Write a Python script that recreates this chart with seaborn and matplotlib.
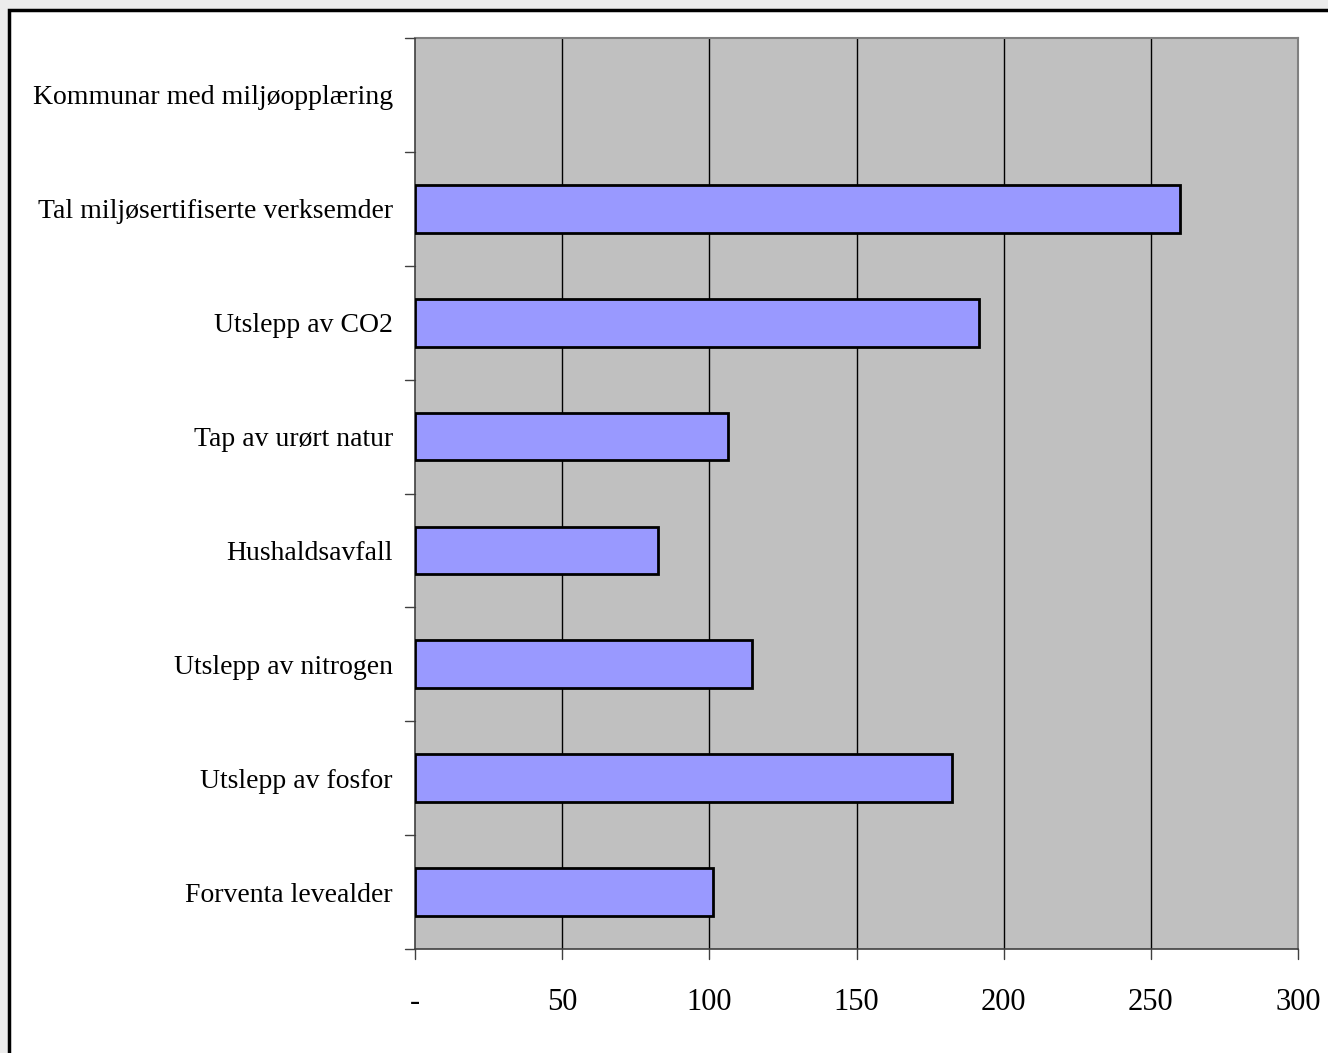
import matplotlib
matplotlib.use("Agg")
import matplotlib.pyplot as plt
import matplotlib.patches as mpatches
import seaborn as sns
import pandas as pd
import numpy as np

categories = [
    "Kommunar med miljøopplæring",
    "Tal miljøsertifiserte verksemder",
    "Utslepp av CO2",
    "Tap av urørt natur",
    "Hushaldsavfall",
    "Utslepp av nitrogen",
    "Utslepp av fosfor",
    "Forventa levealder",
]
values = [np.nan, 260, 191.5, 106.4, 82.6, 114.6, 182.6, 101.2]
xticks = [0, 50, 100, 150, 200, 250, 300]
xticklabels = ["-", "50", "100", "150", "200", "250", "300"]

df = pd.DataFrame({"cat": categories, "val": values})

sns.set_theme(style="white")
plt.rcParams["font.family"] = ["Liberation Serif", "DejaVu Serif"]

fig = plt.figure(figsize=(13.28, 10.53), dpi=100)
fig.patch.set_facecolor("#ECECEC")
# white panel with black frame
fig.add_artist(mpatches.Rectangle((9 / 1328, -0.05), 1.1, 1 - 10 / 1053 + 0.05,
                                  transform=fig.transFigure, facecolor="white",
                                  edgecolor="black", linewidth=2.5, zorder=0))

ax = fig.add_axes([415 / 1328, 1 - 949 / 1053, (1298 - 415) / 1328, (949 - 38) / 1053])
ax.set_facecolor("#C0C0C0")

sns.barplot(data=df, y="cat", x="val", order=categories, orient="h", color="#9999FF",
            saturation=1, width=0.42, edgecolor="black", linewidth=2, ax=ax, zorder=3)

ax.set_xlim(0, 300)
ax.set_ylim(len(categories) - 0.5, -0.5)
ax.set_xticks(xticks)
ax.set_xticklabels(xticklabels, fontsize=22, color="black")
ax.set_yticks(range(len(categories)))
ax.set_yticklabels(categories, fontsize=20, color="black")
ax.tick_params(axis="y", length=0, pad=16)
ax.tick_params(axis="x", length=0, pad=28)
ax.set_xlabel("")
ax.set_ylabel("")

# grid lines
for xv in xticks[1:-1]:
    ax.axvline(xv, color="black", linewidth=1, zorder=1)

# tick marks at category boundaries (y) and at x ticks
for b in [i - 0.5 for i in range(len(categories) + 1)]:
    ax.plot([-10 / 2.943, 0], [b, b], color="#404040", linewidth=1, clip_on=False, zorder=4)
for xv in xticks:
    ax.plot([xv, xv], [len(categories) - 0.5, len(categories) - 0.5 + 10 / 113.9],
            color="#404040", linewidth=1, clip_on=False, zorder=4)

for side in ["top", "right"]:
    ax.spines[side].set_color("#808080")
    ax.spines[side].set_linewidth(1.5)
for side in ["left", "bottom"]:
    ax.spines[side].set_color("#404040")
    ax.spines[side].set_linewidth(1.2)

fig.savefig("out.png", dpi=100, facecolor=fig.get_facecolor())
